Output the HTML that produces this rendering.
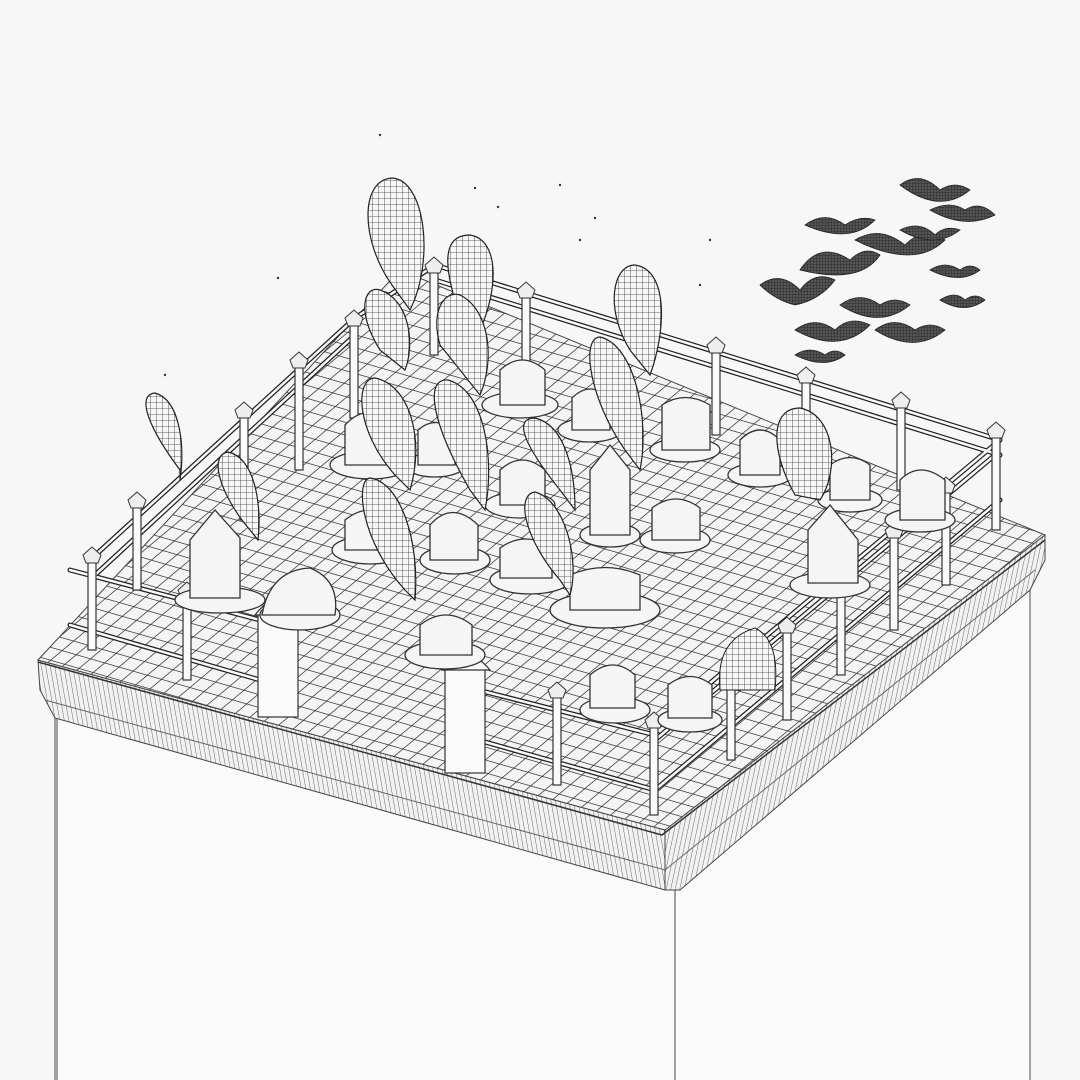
<!DOCTYPE html>
<html><head><meta charset="utf-8"><style>
html,body{margin:0;padding:0;background:#f7f7f7;}
svg{display:block}
</style></head><body>
<svg width="1080" height="1080" viewBox="0 0 1080 1080" xmlns="http://www.w3.org/2000/svg">
<defs>
<pattern id="grid" width="1" height="1" patternUnits="userSpaceOnUse" patternTransform="matrix(14.2,4.1,11.5,-9.6,0,0)">
<rect width="1" height="1" fill="#f4f4f4"/>
<path d="M0 0H1M0 0V1" stroke="#333" stroke-width="0.12" fill="none"/>
</pattern>
<pattern id="hatch" width="4.5" height="20" patternUnits="userSpaceOnUse" patternTransform="skewX(10)">
<rect width="4.5" height="20" fill="#f2f2f2"/>
<path d="M0 0V20" stroke="#444" stroke-width="0.8"/>
</pattern>
<pattern id="hatch2" width="4.5" height="20" patternUnits="userSpaceOnUse" patternTransform="skewX(-12)">
<rect width="4.5" height="20" fill="#f2f2f2"/>
<path d="M0 0V20" stroke="#444" stroke-width="0.8"/>
</pattern>
<pattern id="mesh" width="6" height="6" patternUnits="userSpaceOnUse">
<rect width="6" height="6" fill="#f7f7f7"/>
<path d="M0 0H6M0 0V6" stroke="#333" stroke-width="0.8"/>
</pattern>
<pattern id="batm" width="3" height="3" patternUnits="userSpaceOnUse">
<rect width="3" height="3" fill="#555"/>
<path d="M0 0H3M0 0V3" stroke="#222" stroke-width="0.8"/>
</pattern>
</defs>
<rect width="1080" height="1080" fill="#f7f7f7"/>
<polygon points="55,715 665,890 1030,590 1030,1080 55,1080" fill="#fafafa"/>
<path d="M55 715V1080M57 715V1080M675 890V1080M1030 590V1080" stroke="#666" stroke-width="1.2"/>
<path d="M38,660 L665,830 L665,890 L55,718 L40,690 Z" fill="url(#hatch)" stroke="#444"/>
<path d="M665,830 L1045,535 L1045,560 L1030,590 L680,890 L665,890 Z" fill="url(#hatch2)" stroke="#444"/>
<path d="M38,662 L662,835 L1045,540" fill="none" stroke="#333" stroke-width="1.5"/>
<path d="M45,700 L665,870 L1035,570" fill="none" stroke="#666" stroke-width="1"/>
<polygon points="38,660 400,270 1045,535 665,830" fill="url(#grid)" stroke="#444"/>
<g fill="none" stroke-linecap="round">
<g stroke="#222" stroke-width="5">
<path d="M90,560 L355,318 M95,575 L355,335 M355,318 L435,265 M435,265 L1000,440 M435,280 L1000,455 M1000,440 L660,725 M1000,500 L655,790 M995,455 L655,740"/>
<path d="M70,570 L260,620 M70,625 L260,680 M478,690 L655,735 M478,740 L655,790"/>
</g>
<g stroke="#fafafa" stroke-width="2.5">
<path d="M90,560 L355,318 M95,575 L355,335 M355,318 L435,265 M435,265 L1000,440 M435,280 L1000,455 M1000,440 L660,725 M1000,500 L655,790 M995,455 L655,740"/>
<path d="M70,570 L260,620 M70,625 L260,680 M478,690 L655,735 M478,740 L655,790"/>
</g>
</g>
<g fill="#fafafa" stroke="#333" stroke-width="1.2">
<rect x="133" y="500" width="8" height="90"/><rect x="88" y="555" width="8" height="95"/>
<rect x="183" y="590" width="8" height="90"/><rect x="240" y="410" width="8" height="110"/>
<rect x="295" y="360" width="8" height="110"/><rect x="350" y="318" width="8" height="100"/>
<rect x="430" y="265" width="8" height="90"/><rect x="522" y="290" width="8" height="80"/>
<rect x="712" y="345" width="8" height="90"/><rect x="802" y="375" width="8" height="90"/>
<rect x="897" y="400" width="8" height="90"/><rect x="992" y="430" width="8" height="100"/>
<rect x="942" y="485" width="8" height="100"/><rect x="890" y="530" width="8" height="100"/>
<rect x="837" y="580" width="8" height="95"/><rect x="783" y="625" width="8" height="95"/>
<rect x="727" y="665" width="8" height="95"/><rect x="650" y="720" width="8" height="95"/>
<rect x="553" y="690" width="8" height="95"/>
<rect x="258" y="612" width="40" height="105"/><rect x="445" y="668" width="40" height="105"/>
<path d="M255,615 Q278,585 302,615 Z M442,670 Q465,640 490,670 Z"/>
</g>
<g fill="#eee" stroke="#333" stroke-width="1">
<path d="M128,500 l9,-8 9,8 -3,8 h-12Z M83,555 l9,-8 9,8 -3,8 h-12Z M178,590 l9,-8 9,8 -3,8 h-12Z M235,410 l9,-8 9,8 -3,8 h-12Z M290,360 l9,-8 9,8 -3,8 h-12Z M345,318 l9,-8 9,8 -3,8 h-12Z M425,265 l9,-8 9,8 -3,8 h-12Z M517,290 l9,-8 9,8 -3,8 h-12Z M707,345 l9,-8 9,8 -3,8 h-12Z M797,375 l9,-8 9,8 -3,8 h-12Z M892,400 l9,-8 9,8 -3,8 h-12Z M987,430 l9,-8 9,8 -3,8 h-12Z M937,485 l9,-8 9,8 -3,8 h-12Z M885,530 l9,-8 9,8 -3,8 h-12Z M832,580 l9,-8 9,8 -3,8 h-12Z M778,625 l9,-8 9,8 -3,8 h-12Z M722,665 l9,-8 9,8 -3,8 h-12Z M645,720 l9,-8 9,8 -3,8 h-12Z M548,690 l9,-8 9,8 -3,8 h-12Z"/>
</g>
<g fill="#f5f5f5" stroke="#333" stroke-width="1.3">
<ellipse cx="370" cy="465" rx="40" ry="14"/><path d="M345,465 V425 Q368,400 395,425 V465Z"/>
<ellipse cx="520" cy="405" rx="38" ry="13"/><path d="M500,405 V370 Q522,350 545,370 V405Z"/>
<ellipse cx="590" cy="430" rx="32" ry="12"/><path d="M572,430 V398 Q590,380 610,398 V430Z"/>
<ellipse cx="685" cy="450" rx="35" ry="12"/><path d="M662,450 V405 Q685,390 710,405 V450Z"/>
<ellipse cx="760" cy="475" rx="32" ry="12"/><path d="M740,475 V440 Q760,420 780,440 V475Z"/>
<ellipse cx="920" cy="520" rx="35" ry="12"/><path d="M900,520 V480 Q920,460 945,480 V520Z"/>
<ellipse cx="850" cy="500" rx="32" ry="12"/><path d="M830,500 V465 Q850,450 870,465 V500Z"/>
<ellipse cx="220" cy="600" rx="45" ry="13"/><path d="M190,598 V540 L215,510 L240,538 V598Z"/>
<ellipse cx="830" cy="585" rx="40" ry="13"/><path d="M808,583 V530 L830,505 L858,540 V583Z"/>
<ellipse cx="300" cy="615" rx="40" ry="15"/><path d="M262,615 Q270,570 310,568 Q340,580 335,615Z"/>
<ellipse cx="370" cy="550" rx="38" ry="14"/><path d="M345,550 V520 Q370,500 395,520 V550Z"/>
<ellipse cx="455" cy="560" rx="35" ry="14"/><path d="M430,560 V525 Q452,500 478,525 V560Z"/>
<ellipse cx="530" cy="580" rx="40" ry="14"/><path d="M500,578 V548 Q525,530 552,548 V578Z"/>
<ellipse cx="605" cy="610" rx="55" ry="18"/><path d="M570,610 V575 Q605,560 640,575 V610Z"/>
<ellipse cx="675" cy="540" rx="35" ry="13"/><path d="M652,540 V508 Q676,490 700,508 V540Z"/>
<ellipse cx="610" cy="535" rx="30" ry="12"/><path d="M590,535 V470 L610,445 L630,470 V535Z"/>
<ellipse cx="520" cy="505" rx="35" ry="13"/><path d="M500,505 V470 Q522,450 545,470 V505Z"/>
<ellipse cx="445" cy="655" rx="40" ry="14"/><path d="M420,655 V625 Q446,605 472,625 V655Z"/>
<ellipse cx="615" cy="710" rx="35" ry="13"/><path d="M590,708 V675 Q613,655 635,675 V708Z"/>
<ellipse cx="690" cy="720" rx="32" ry="12"/><path d="M668,718 V685 Q690,668 712,685 V718Z"/>
<ellipse cx="435" cy="465" rx="30" ry="12"/><path d="M418,465 V430 Q435,415 455,430 V465Z"/>
</g>
<path d="M720,690 Q715,640 755,628 Q780,640 775,690Z" fill="url(#mesh)" stroke="#222"/>
<g fill="url(#mesh)" stroke="#222" stroke-width="1.2">
<path d="M392,285 C360,240 360,180 392,178 C425,180 435,260 410,310Z"/>
<path d="M455,300 C440,250 450,235 470,235 C500,240 498,290 480,330Z"/>
<path d="M380,350 C355,310 365,285 380,290 C410,300 415,345 405,370Z"/>
<path d="M440,345 C430,310 445,290 460,295 C490,310 495,360 480,395Z"/>
<path d="M630,350 C605,310 612,265 635,265 C670,270 665,335 650,375Z"/>
<path d="M395,475 C355,430 355,378 375,378 C410,385 425,440 410,490Z"/>
<path d="M470,490 C430,420 425,378 448,380 C485,390 495,460 485,510Z"/>
<path d="M560,490 C520,440 515,418 535,418 C565,425 575,470 575,510Z"/>
<path d="M625,450 C590,400 580,338 600,337 C635,345 650,420 640,470Z"/>
<path d="M405,590 C360,540 355,480 370,478 C400,482 420,540 415,600Z"/>
<path d="M560,580 C525,540 515,495 535,492 C565,500 580,560 570,595Z"/>
<path d="M180,470 C150,430 135,395 155,393 C180,400 185,445 180,480Z"/>
<path d="M250,530 C220,495 208,455 228,452 C255,458 262,505 258,540Z"/>
<path d="M795,495 C770,450 770,408 800,408 C835,415 840,470 820,500Z"/>
</g>
<g fill="url(#batm)" stroke="#222" stroke-width="0.8">
<path d="M760,285 q20,-15 40,5 q15,-20 35,-10 q-15,20 -40,25 q-20,-5 -35,-20Z"/>
<path d="M800,270 q20,-30 50,-10 q15,-15 30,-5 q-20,30 -80,15Z"/>
<path d="M805,225 q20,-15 40,0 q15,-10 30,-5 q-25,25 -70,5Z"/>
<path d="M855,240 q25,-15 50,5 q20,-20 40,-5 q-30,30 -90,0Z"/>
<path d="M900,185 q20,-15 40,5 q15,-10 30,0 q-30,25 -70,-5Z"/>
<path d="M930,210 q20,-10 35,0 q15,-10 30,5 q-30,15 -65,-5Z"/>
<path d="M900,230 q20,-10 35,5 q10,-10 25,-5 q-25,20 -60,0Z"/>
<path d="M795,330 q20,-15 40,0 q15,-15 35,-5 q-30,30 -75,5Z"/>
<path d="M840,305 q20,-15 40,0 q15,-10 30,0 q-30,25 -70,0Z"/>
<path d="M875,330 q20,-15 40,0 q15,-10 30,0 q-30,25 -70,0Z"/>
<path d="M930,270 q15,-10 30,0 q10,-8 20,0 q-20,15 -50,0Z"/>
<path d="M940,300 q15,-10 25,0 q10,-8 20,0 q-20,15 -45,0Z"/>
<path d="M795,355 q15,-10 30,0 q10,-8 20,0 q-20,15 -50,0Z"/>
</g>
<g fill="#333"><circle cx="380" cy="135" r="1.2"/><circle cx="475" cy="188" r="1.2"/><circle cx="560" cy="185" r="1.2"/><circle cx="595" cy="218" r="1.2"/><circle cx="580" cy="240" r="1.2"/><circle cx="710" cy="240" r="1.2"/><circle cx="498" cy="207" r="1.2"/><circle cx="278" cy="278" r="1.2"/><circle cx="165" cy="375" r="1.2"/><circle cx="700" cy="285" r="1.2"/></g>
</svg>
</body></html>
